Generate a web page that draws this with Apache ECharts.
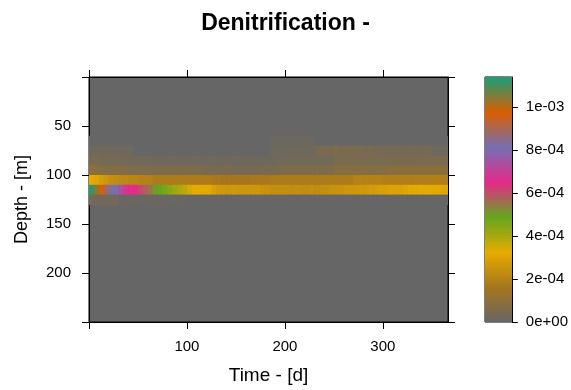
<!DOCTYPE html>
<html>
<head>
<meta charset="utf-8">
<script src="https://cdn.jsdelivr.net/npm/echarts@6/dist/echarts.min.js"></script>
<style>
  html, body { margin: 0; padding: 0; background: #ffffff; }
  #chart { width: 571px; height: 390px; }
</style>
</head>
<body>
<div id="chart"></div>
<script>
// ---- Time axis: start of each 5-day output interval (days) ----
const binStarts = [
  0, 5, 10, 15, 20, 25, 30, 35, 40, 45, 50, 55, 60, 65, 70, 75, 80, 85, 90, 95,
  100, 105, 110, 115, 120, 125, 130, 135, 140, 145, 150, 155, 160, 165, 170, 175, 180, 185, 190, 195,
  200, 205, 210, 215, 220, 225, 230, 235, 240, 245, 250, 255, 260, 265, 270, 275, 280, 285, 290, 295,
  300, 305, 310, 315, 320, 325, 330, 335, 340, 345, 350, 355, 360
];
const timeEnd = 366.5;

// ---- Depth layers (m, top of 10 m layer) with non-zero denitrification ----
const layerTops = [60, 70, 80, 90, 100, 110, 120];
const layerThickness = 10;

// Denitrification rate per layer and interval, in units of 1e-5
const rate60 = [
  0, 0, 0, 0, 0, 0, 0, 0, 0, 0, 0, 0, 0, 0, 0, 0, 0, 0, 0, 0,
  0, 0, 0, 0, 0, 0, 0, 0, 0, 0, 0, 0, 0, 0, 0, 0, 0, 1.5, 1.5, 1.5,
  1.5, 1.5, 1.5, 1.5, 1.5, 1.5, 0, 0, 0, 0, 0, 0, 0, 0, 0, 0, 0, 0, 0, 0,
  0, 0, 0, 0, 0, 0, 0, 0, 0, 0, 0, 0, 0
];
const rate70 = [
  2, 2, 2, 2, 2, 2, 2, 2, 2, 0, 0, 0, 0, 0, 0, 0, 0, 0, 0, 0,
  0, 0, 0, 0, 0, 0, 0, 0, 0, 0, 0, 0, 0, 0, 0, 0, 0, 2, 2, 2,
  2, 2, 2, 2, 2, 2, 4, 5, 5, 5, 6, 5, 5, 5, 5, 5, 4, 5, 4, 4,
  4, 4, 4, 4, 4, 4, 4, 4, 4, 4, 2, 2, 2
];
const rate80 = [
  5, 5, 4, 4, 4, 4, 4, 3, 3, 3, 3, 3, 2, 2, 2, 2, 2, 2, 2, 2,
  2, 2, 2, 2, 2, 2, 2, 2, 2, 2, 2, 2, 2, 2, 2, 2, 2, 2, 3, 3,
  3, 3, 3, 3, 3, 3, 3, 3, 3, 3, 5, 5, 5, 5, 5, 5, 5, 5, 5, 5,
  5, 5, 5, 5, 5, 5, 5, 5, 5, 5, 5, 5, 5
];
const rate90 = [
  10, 9, 8, 7, 7, 7, 7, 7, 6, 6, 6, 6, 6, 6, 6, 6, 6, 6, 6, 6,
  6, 6, 6, 5, 5, 5, 5, 5, 5, 4, 4, 4, 4, 4, 4, 5, 5, 5, 5, 6,
  6, 6, 6, 6, 6, 6, 6, 6, 6, 6, 8, 8, 8, 8, 8, 8, 8, 8, 8, 8,
  8, 9, 9, 9, 9, 9, 9, 9, 9, 9, 9, 9, 9
];
const rate100 = [
  33, 31, 28, 26, 24, 23, 22, 22, 21, 21, 20, 20, 19, 18, 18, 18, 18, 18, 18, 18,
  18, 18, 18, 18, 18, 17, 17, 16, 16, 16, 16, 16, 16, 17, 17, 17, 17, 18, 18, 18,
  18, 18, 18, 18, 18, 18, 18, 18, 18, 18, 18, 18, 18, 18, 20, 20, 20, 20, 20, 20,
  19, 19, 19, 19, 19, 19, 19, 19, 19, 19, 19, 19, 19
];
const rate110 = [
  112, 105, 98, 90, 83, 81, 74, 68, 66, 65, 61, 58, 55, 51, 49, 47, 44, 42, 40, 38,
  35, 33, 33, 33, 32, 29, 27, 27, 26, 27, 26, 26, 26, 26, 26, 25, 25, 24, 24, 24,
  24, 23, 24, 23, 23, 24, 23, 24, 24, 25, 25, 25, 26, 26, 26, 27, 27, 28, 28, 29,
  29, 30, 30, 30, 31, 32, 32, 33, 33, 33, 32, 32, 31
];
const rate120 = [
  3, 3, 3, 3, 3, 3, 1, 1, 1, 1, 1, 1, 1, 1, 1, 1, 1, 1, 1, 1,
  0, 0, 0, 0, 0, 0, 0, 0, 0, 0, 0, 0, 0, 0, 0, 0, 0, 0, 0, 0,
  0, 0, 0, 0, 0, 0, 0, 0, 0, 0, 0, 0, 0, 0, 0, 0, 0, 0, 0, 0,
  0, 0, 0, 0, 0, 0, 0, 0, 0, 0, 0, 0, 0
];
const rateUnit = 1e-5;

// ---- Axis ticks and labels ----
const timeTicks = [0, 100, 200, 300];
const timeLabels = [100, 200, 300];
const depthTicks = [0, 50, 100, 150, 200, 250];
const depthLabels = [50, 100, 150, 200];
const keyTicks = [0, 2e-4, 4e-4, 6e-4, 8e-4, 1e-3];
const keyLabels = ['0e+00', '2e-04', '4e-04', '6e-04', '8e-04', '1e-03'];
const keyMax = 1.14e-3;

// Colour ramp, low to high
const rampColors = ['#666666', '#A6761D', '#E6AB02', '#66A61E', '#E7298A', '#7570B3', '#D95F02', '#1B9E77'];

// ---- Build cells [t0, t1, depthTop, depthBottom, rate] ----
const layerRates = [rate60, rate70, rate80, rate90, rate100, rate110, rate120];
const cells = [];
layerRates.forEach((rates, li) => {
  rates.forEach((r, i) => {
    const t0 = binStarts[i];
    const t1 = i + 1 < binStarts.length ? binStarts[i + 1] : timeEnd;
    cells.push([t0, t1, layerTops[li], layerTops[li] + layerThickness, r * rateUnit]);
  });
});

// Colour key slices
const keySteps = 120;
const keyCells = [];
for (let i = 0; i < keySteps; i++) {
  const lo = keyMax * i / keySteps, hi = keyMax * (i + 1) / keySteps;
  keyCells.push([0, 1, lo, hi, (lo + hi) / 2]);
}

function renderCell(params, api) {
  const a = api.coord([api.value(0), api.value(2)]);
  const b = api.coord([api.value(1), api.value(3)]);
  return {
    type: 'rect',
    shape: {
      x: Math.min(a[0], b[0]),
      y: Math.min(a[1], b[1]),
      width: Math.abs(b[0] - a[0]) + 0.6,
      height: Math.abs(b[1] - a[1]) + 0.6
    },
    style: { fill: api.visual('color') }
  };
}

const font = 'Liberation Sans, Arial, Helvetica, sans-serif';
const tickStyle = { color: '#000000', width: 1 };

const chart = echarts.init(document.getElementById('chart'), null, { renderer: 'canvas' });
chart.setOption({
  animation: false,
  textStyle: { fontFamily: font, color: '#000000' },
  title: {
    text: 'Denitrification -',
    left: 'center',
    top: 7,
    textStyle: { fontFamily: font, fontSize: 23, fontWeight: 'bold', color: '#000000' }
  },
  grid: [
    { left: 89, top: 77, width: 359, height: 245, show: true, backgroundColor: '#666666',
      borderColor: '#000000', borderWidth: 1, containLabel: false },
    { left: 485, top: 77, width: 28, height: 245, show: true, backgroundColor: '#666666',
      borderColor: '#000000', borderWidth: 1, containLabel: false }
  ],
  visualMap: {
    type: 'continuous',
    show: false,
    min: 0,
    max: keyMax,
    dimension: 4,
    seriesIndex: [0, 1],
    inRange: { color: rampColors }
  },
  xAxis: [
    {
      gridIndex: 0, type: 'value', min: 0, max: timeEnd, position: 'bottom',
      axisLine: { show: true, onZero: false, lineStyle: tickStyle },
      axisTick: { show: true, length: 7, lineStyle: tickStyle, customValues: timeTicks },
      axisLabel: { customValues: timeLabels, fontSize: 15, color: '#000000', margin: 17, fontFamily: font },
      splitLine: { show: false },
      name: 'Time - [d]', nameLocation: 'middle', nameGap: 44,
      nameTextStyle: { fontSize: 19, color: '#000000', fontFamily: font }
    },
    {
      gridIndex: 0, type: 'value', min: 0, max: timeEnd, position: 'top',
      axisLine: { show: true, onZero: false, lineStyle: tickStyle },
      axisTick: { show: true, length: 7, lineStyle: tickStyle, customValues: timeTicks },
      axisLabel: { show: false },
      splitLine: { show: false }
    },
    {
      gridIndex: 1, type: 'value', min: 0, max: 1, show: false
    }
  ],
  yAxis: [
    {
      gridIndex: 0, type: 'value', min: 0, max: 250, inverse: true, position: 'left',
      axisLine: { show: true, onZero: false, lineStyle: tickStyle },
      axisTick: { show: true, length: 7, lineStyle: tickStyle, customValues: depthTicks },
      axisLabel: { customValues: depthLabels, fontSize: 15, color: '#000000', margin: 18, fontFamily: font },
      splitLine: { show: false },
      name: 'Depth - [m]', nameLocation: 'middle', nameGap: 58, nameRotate: 90,
      nameTextStyle: { fontSize: 18, color: '#000000', fontFamily: font }
    },
    {
      gridIndex: 0, type: 'value', min: 0, max: 250, inverse: true, position: 'right',
      axisLine: { show: true, onZero: false, lineStyle: tickStyle },
      axisTick: { show: true, length: 7, lineStyle: tickStyle, customValues: depthTicks },
      axisLabel: { show: false },
      splitLine: { show: false }
    },
    {
      gridIndex: 1, type: 'value', min: 0, max: keyMax, position: 'right',
      axisLine: { show: true, onZero: false, lineStyle: tickStyle },
      axisTick: { show: true, length: 6, lineStyle: tickStyle, customValues: keyTicks },
      axisLabel: {
        customValues: keyTicks, fontSize: 15, color: '#000000', margin: 14, fontFamily: font,
        formatter: function (v) {
          let best = 0;
          keyTicks.forEach((t, i) => { if (Math.abs(t - v) < Math.abs(keyTicks[best] - v)) best = i; });
          return keyLabels[best];
        }
      },
      splitLine: { show: false }
    }
  ],
  series: [
    {
      type: 'custom',
      name: 'Denitrification',
      xAxisIndex: 0, yAxisIndex: 0,
      clip: true,
      renderItem: renderCell,
      encode: { x: [0, 1], y: [2, 3] },
      data: cells,
      silent: true
    },
    {
      type: 'custom',
      name: 'key',
      xAxisIndex: 2, yAxisIndex: 2,
      clip: true,
      renderItem: renderCell,
      encode: { x: [0, 1], y: [2, 3] },
      data: keyCells,
      silent: true
    }
  ]
});
</script>
</body>
</html>
